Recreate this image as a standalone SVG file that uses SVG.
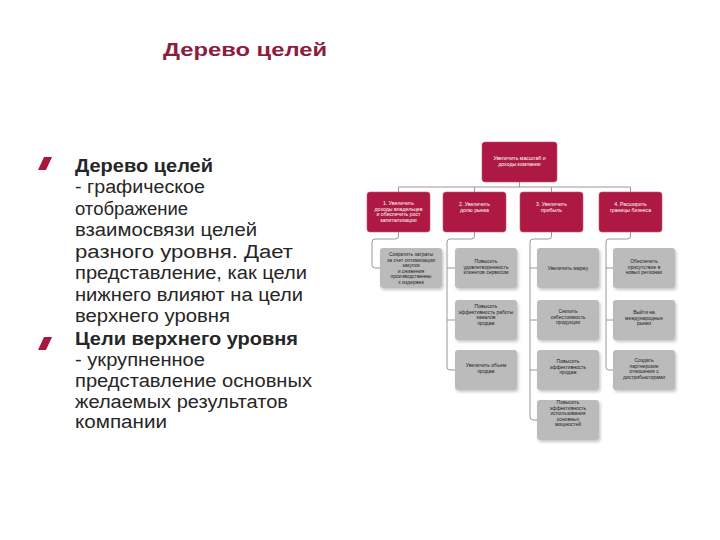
<svg xmlns="http://www.w3.org/2000/svg" width="720" height="540" viewBox="0 0 720 540">
<defs>
<style>
.title{font-family:"Liberation Sans",Arial,sans-serif;font-weight:bold;font-size:19px;fill:#8E1C3C}
.body{font-family:"Liberation Sans",Arial,sans-serif;font-size:18px;fill:#262626}
.bold{font-weight:bold}
.bullet{fill:#A8163C}
.red rect{fill:#AD1942;stroke:#C9566F;stroke-width:0.6}
.gray rect{fill:#BBBBBB}
.rt{font-family:"Liberation Sans",Arial,sans-serif;font-size:5.2px;fill:#FFFFFF;text-anchor:middle}
.gt{font-family:"Liberation Sans",Arial,sans-serif;font-size:5px;fill:#1E1E1E;text-anchor:middle}
.conn{fill:none;stroke:#8C8C8C;stroke-width:0.9}
</style>
<filter id="sh" x="-20%" y="-20%" width="150%" height="150%">
<feDropShadow dx="1.5" dy="2" stdDeviation="1.5" flood-color="#000" flood-opacity="0.22"/>
</filter>
</defs>
<rect width="720" height="540" fill="#FFFFFF"/>

<text class="title" x="163" y="56" textLength="164" lengthAdjust="spacingAndGlyphs">Дерево целей</text>

<g id="bullets">
<polygon class="bullet" points="44,157 52,157 46,170 38,170"/>
<polygon class="bullet" points="44,337 52,337 46,350 38,350"/>
</g>

<g id="text1" class="body">
<text x="75" y="172" class="bold" textLength="138" lengthAdjust="spacingAndGlyphs">Дерево целей</text>
<text x="75" y="193" textLength="130" lengthAdjust="spacingAndGlyphs">- графическое</text>
<text x="75" y="215" textLength="113" lengthAdjust="spacingAndGlyphs">отображение</text>
<text x="75" y="236" textLength="182" lengthAdjust="spacingAndGlyphs">взаимосвязи целей</text>
<text x="75" y="258" textLength="218" lengthAdjust="spacingAndGlyphs">разного уровня. Дает</text>
<text x="75" y="279" textLength="232" lengthAdjust="spacingAndGlyphs">представление, как цели</text>
<text x="75" y="301" textLength="228" lengthAdjust="spacingAndGlyphs">нижнего влияют на цели</text>
<text x="75" y="322" textLength="155" lengthAdjust="spacingAndGlyphs">верхнего уровня</text>
</g>
<g id="text2" class="body">
<text x="75" y="345" class="bold" textLength="223" lengthAdjust="spacingAndGlyphs">Цели верхнего уровня</text>
<text x="75" y="366" textLength="130" lengthAdjust="spacingAndGlyphs">- укрупненное</text>
<text x="75" y="387" textLength="237" lengthAdjust="spacingAndGlyphs">представление основных</text>
<text x="75" y="408" textLength="213" lengthAdjust="spacingAndGlyphs">желаемых результатов</text>
<text x="75" y="428" textLength="92" lengthAdjust="spacingAndGlyphs">компании</text>
</g>

<g id="connectors" class="conn">
<path d="M519.5 181 V187 M398.5 187 H630.5 M398.5 187 V192 M474.5 187 V192 M551.5 187 V192 M630.5 187 V192"/>
<path d="M398.5 232 V236 Q398.5 239 395.5 239 H375 Q372 239 372 242 V265 Q372 268 375 268 H380"/>
<path d="M474.5 232 V236 Q474.5 239 471.5 239 H450 Q447 239 447 242 V367 Q447 370 450 370 H455 M447 268 H455 M447 320 H455"/>
<path d="M551.5 232 V236 Q551.5 239 548.5 239 H533 Q530 239 530 242 V417 Q530 420 533 420 H537 M530 268 H537 M530 320 H537 M530 370 H537"/>
<path d="M630.5 232 V236 Q630.5 239 627.5 239 H609 Q606 239 606 242 V367 Q606 370 609 370 H613 M606 268 H613 M606 320 H613"/>
</g>

<g id="top" class="red"><rect x="482" y="142" width="75" height="40" rx="3"/>
<text class="rt" x="519.5" y="160">Увеличить масштаб и</text><text class="rt" x="519.5" y="166">доходы компании</text></g>

<g id="l1-1" class="red"><rect x="367" y="192" width="63" height="40" rx="3"/>
<text class="rt" x="398.5" y="205">1. Увеличить</text><text class="rt" x="398.5" y="210.5">доходы владельцев</text><text class="rt" x="398.5" y="216">и обеспечить рост</text><text class="rt" x="398.5" y="221.5">капитализации</text></g>
<g id="l1-2" class="red"><rect x="443" y="192" width="63" height="40" rx="3"/>
<text class="rt" x="474.5" y="206">2. Увеличить</text><text class="rt" x="474.5" y="212">долю рынка</text></g>
<g id="l1-3" class="red"><rect x="520" y="192" width="63" height="40" rx="3"/>
<text class="rt" x="551.5" y="206">3. Увеличить</text><text class="rt" x="551.5" y="212">прибыль</text></g>
<g id="l1-4" class="red"><rect x="599" y="192" width="63" height="40" rx="3"/>
<text class="rt" x="630.5" y="206">4. Расширить</text><text class="rt" x="630.5" y="212">границы бизнеса</text></g>

<g id="g1-1" class="gray"><rect x="380" y="248" width="62" height="40" rx="3" filter="url(#sh)"/>
<text class="gt" x="411" y="256">Сократить затраты</text><text class="gt" x="411" y="261.5">за счет оптимизации</text><text class="gt" x="411" y="267">закупок</text><text class="gt" x="411" y="272.5">и снижения</text><text class="gt" x="411" y="278">производственны</text><text class="gt" x="411" y="283.5">х издержек</text></g>

<g id="g2-1" class="gray"><rect x="455" y="248" width="62" height="40" rx="3" filter="url(#sh)"/>
<text class="gt" x="486" y="263">Повысить</text><text class="gt" x="486" y="268.5">удовлетворенность</text><text class="gt" x="486" y="274">клиентов сервисом</text></g>
<g id="g2-2" class="gray"><rect x="455" y="300" width="62" height="40" rx="3" filter="url(#sh)"/>
<text class="gt" x="486" y="308">Повысить</text><text class="gt" x="486" y="313.5">эффективность работы</text><text class="gt" x="486" y="319">каналов</text><text class="gt" x="486" y="324.5">продаж</text></g>
<g id="g2-3" class="gray"><rect x="455" y="350" width="62" height="40" rx="3" filter="url(#sh)"/>
<text class="gt" x="486" y="367">Увеличить объем</text><text class="gt" x="486" y="372.5">продаж</text></g>

<g id="g3-1" class="gray"><rect x="537" y="248" width="62" height="40" rx="3" filter="url(#sh)"/>
<text class="gt" x="568" y="270">Увеличить маржу</text></g>
<g id="g3-2" class="gray"><rect x="537" y="300" width="62" height="40" rx="3" filter="url(#sh)"/>
<text class="gt" x="568" y="313">Снизить</text><text class="gt" x="568" y="318.5">себестоимость</text><text class="gt" x="568" y="324">продукции</text></g>
<g id="g3-3" class="gray"><rect x="537" y="350" width="62" height="40" rx="3" filter="url(#sh)"/>
<text class="gt" x="568" y="363">Повысить</text><text class="gt" x="568" y="368.5">эффективность</text><text class="gt" x="568" y="374">продаж</text></g>
<g id="g3-4" class="gray"><rect x="537" y="400" width="62" height="40" rx="3" filter="url(#sh)"/>
<text class="gt" x="568" y="404">Повысить</text><text class="gt" x="568" y="409.5">эффективность</text><text class="gt" x="568" y="415">использования</text><text class="gt" x="568" y="420.5">основных</text><text class="gt" x="568" y="426">мощностей</text></g>

<g id="g4-1" class="gray"><rect x="613" y="248" width="62" height="40" rx="3" filter="url(#sh)"/>
<text class="gt" x="644" y="263">Обеспечить</text><text class="gt" x="644" y="268.5">присутствие в</text><text class="gt" x="644" y="274">новых регионах</text></g>
<g id="g4-2" class="gray"><rect x="613" y="300" width="62" height="40" rx="3" filter="url(#sh)"/>
<text class="gt" x="644" y="314">Выйти на</text><text class="gt" x="644" y="319.5">международные</text><text class="gt" x="644" y="325">рынки</text></g>
<g id="g4-3" class="gray"><rect x="613" y="350" width="62" height="40" rx="3" filter="url(#sh)"/>
<text class="gt" x="644" y="362">Создать</text><text class="gt" x="644" y="367.5">партнерские</text><text class="gt" x="644" y="373">отношения с</text><text class="gt" x="644" y="378.5">дистрибьюторами</text></g>
</svg>
